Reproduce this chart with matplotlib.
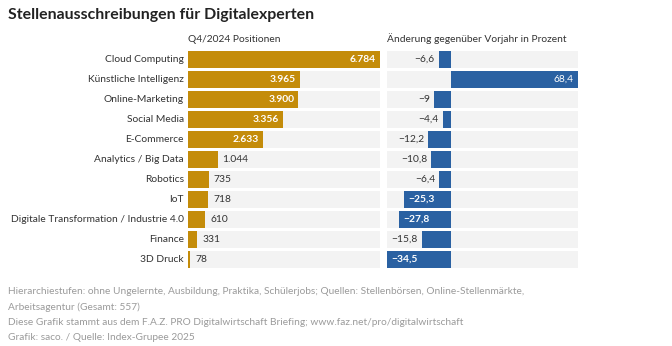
import matplotlib
matplotlib.use("Agg")
import matplotlib.pyplot as plt

categories = ["Cloud Computing", "Künstliche Intelligenz", "Online-Marketing", "Social Media",
              "E-Commerce", "Analytics / Big Data", "Robotics", "IoT",
              "Digitale Transformation / Industrie 4.0", "Finance", "3D Druck"]
positions = [6784, 3965, 3900, 3356, 2633, 1044, 735, 718, 610, 331, 78]
change_pct = [-6.6, 68.4, -9, -4.4, -12.2, -10.8, -6.4, -25.3, -27.8, -15.8, -34.5]

title = "Stellenausschreibungen für Digitalexperten"
header_left = "Q4/2024 Positionen"
header_right = "Änderung gegenüber Vorjahr in Prozent"
notes = ["Hierarchiestufen: ohne Ungelernte, Ausbildung, Praktika, Schülerjobs; Quellen: Stellenbörsen, Online-Stellenmärkte,",
         "Arbeitsagentur (Gesamt: 557)",
         "Diese Grafik stammt aus dem F.A.Z. PRO Digitalwirtschaft Briefing; www.faz.net/pro/digitalwirtschaft",
         "Grafik: saco. / Quelle: Index-Grupee 2025"]

GOLD = "#C48C0A"
BLUE = "#2A61A2"
BG = "#F3F3F3"
DARK = "#333333"
GREY = "#9A9A9A"
FONT = "Lato"

W, H = 672, 346
fig = plt.figure(figsize=(W / 100, H / 100), dpi=100)
plt.rcParams["font.family"] = FONT


def px_axes(x0, x1, y0, y1):
    return fig.add_axes([x0 / W, 1 - y1 / H, (x1 - x0) / W, (y1 - y0) / H])


n = len(categories)
rows = list(range(n))
bar_h = 0.85
top, bottom = 49, 269

# Left panel: absolute positions
axl = px_axes(188, 380, top, bottom)
vmax = max(positions)
axl.set_xlim(0, vmax)
axl.set_ylim(n - 0.5, -0.5)
axl.barh(rows, [vmax] * n, height=bar_h, color=BG, linewidth=0)
axl.barh(rows, positions, height=bar_h, color=GOLD, linewidth=0)
for i, v in enumerate(positions):
    lab = f"{v:,}".replace(",", ".")
    if v >= 2000:
        axl.annotate(lab, (v, i), xytext=(-4, 0), textcoords="offset pixels",
                     ha="right", va="center", color="white", fontsize=7.4, fontweight="bold")
    else:
        axl.annotate(lab, (v, i), xytext=(5, 0), textcoords="offset pixels",
                     ha="left", va="center", color=DARK, fontsize=7.4)
    axl.annotate(categories[i], (0, i), xytext=(-4, 0), textcoords="offset pixels",
                 ha="right", va="center", color=DARK, fontsize=7.4, annotation_clip=False)
axl.axis("off")

# Right panel: change versus previous year
axr = px_axes(387, 578, top, bottom)
lo, hi = min(change_pct), max(change_pct)
axr.set_xlim(lo, hi)
axr.set_ylim(n - 0.5, -0.5)
axr.barh(rows, [hi - lo] * n, left=lo, height=bar_h, color=BG, linewidth=0)
axr.barh(rows, change_pct, height=bar_h, color=BLUE, linewidth=0)
for i, v in enumerate(change_pct):
    lab = (f"{v:.1f}" if v != int(v) else f"{int(v)}").replace(".", ",").replace("-", "\u2212")
    if v > 0:
        axr.annotate(lab, (v, i), xytext=(-4, 0), textcoords="offset pixels",
                     ha="right", va="center", color="white", fontsize=7.4)
    elif v < -20:
        axr.annotate(lab, (v, i), xytext=(4, 0), textcoords="offset pixels",
                     ha="left", va="center", color="white", fontsize=7.4, fontweight="bold")
    else:
        axr.annotate(lab, (v, i), xytext=(-4, 0), textcoords="offset pixels",
                     ha="right", va="center", color=DARK, fontsize=7.4)
axr.axis("off")

# Titles and headers
fig.text(8 / W, 1 - 15 / H, title, ha="left", va="center", fontsize=11.4, fontweight="bold", color="#222222")
fig.text(188 / W, 1 - 39 / H, header_left, ha="left", va="center", fontsize=7.4, color=DARK)
fig.text(387 / W, 1 - 39 / H, header_right, ha="left", va="center", fontsize=7.4, color=DARK)

# Footnotes
for k, line in enumerate(notes):
    fig.text(8 / W, 1 - (292 + 15.3 * k) / H, line, ha="left", va="center", fontsize=7.25, color=GREY)

fig.savefig("out.png", dpi=100)
